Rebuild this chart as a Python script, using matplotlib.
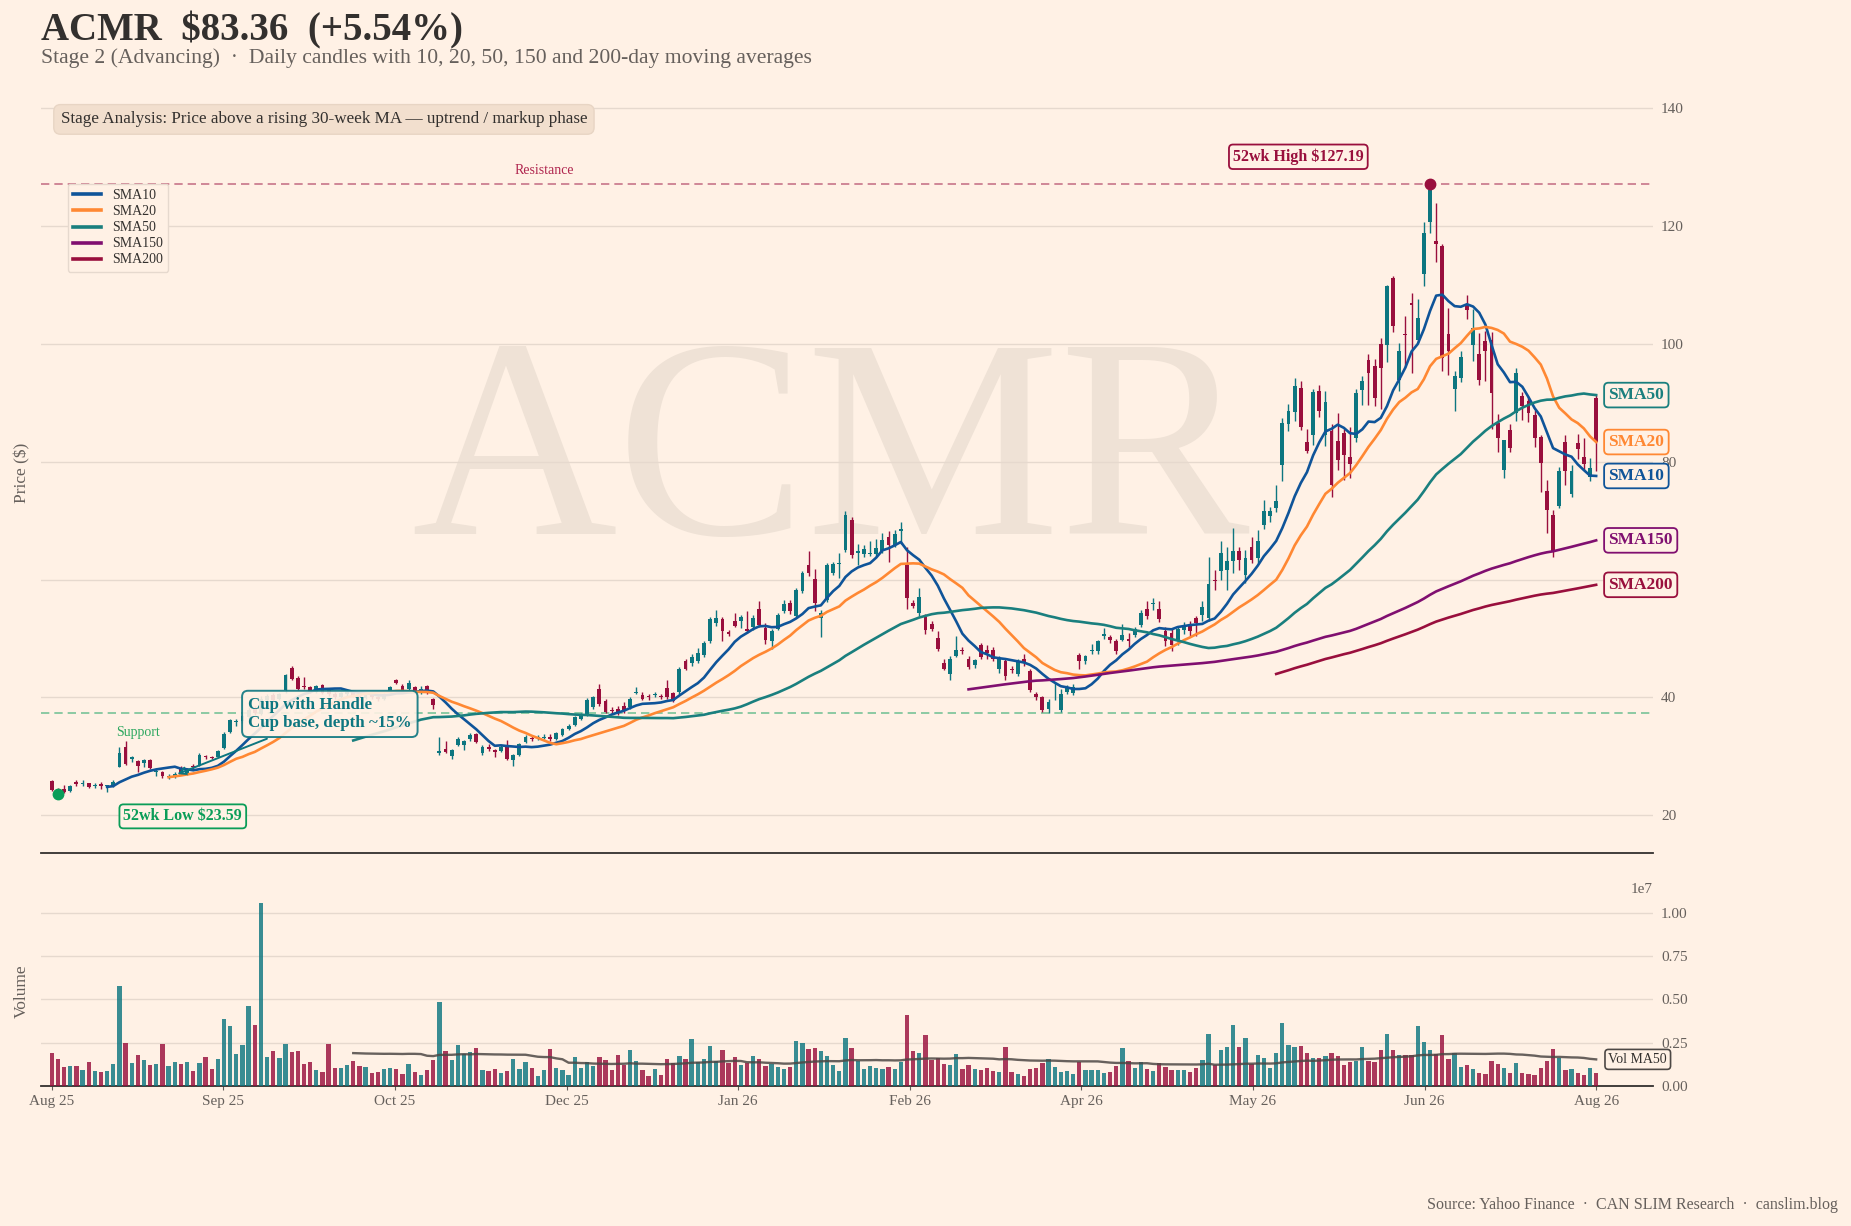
import matplotlib
matplotlib.use("Agg")
import matplotlib.pyplot as plt
import numpy as np
import pandas as pd

# ACMR daily candles (price in $, volume in millions)
ticker = "ACMR"

open_ = [25.8, 24.5, 24.4, 24.1, 25.6, 25.3, 25.4, 24.9, 25.3, 24.9,
         24.9, 28.2, 31.6, 29.5, 29.2, 28.9, 29.3, 27.3, 27.4, 26.4,
         26.6, 28.0, 27.0, 28.3, 28.5, 30.1, 29.9, 29.9, 31.4, 34.2,
         35.8, 36.0, 36.6, 38.2, 37.2, 39.6, 40.4, 39.7, 41.2, 45.0,
         43.3, 41.9, 41.8, 41.0, 42.1, 41.2, 40.6, 40.1, 40.6, 40.9,
         40.4, 39.9, 40.5, 40.1, 39.8, 41.0, 42.9, 41.9, 41.5, 41.8,
         41.2, 41.9, 39.7, 30.6, 31.2, 30.0, 32.0, 31.9, 32.9, 33.8,
         30.6, 31.6, 31.0, 30.9, 31.9, 29.3, 30.2, 32.5, 33.1, 33.1,
         33.1, 33.3, 32.9, 33.6, 34.6, 35.3, 36.3, 37.0, 38.3, 41.4,
         39.4, 37.9, 38.0, 38.5, 38.3, 40.7, 40.4, 40.2, 40.4, 40.3,
         41.6, 40.7, 40.85, 46.1, 45.8, 46.1, 47.2, 49.5, 52.6, 53.3,
         51.1, 52.9, 53.0, 51.7, 52.0, 55.0, 51.8, 49.5, 51.7, 54.6,
         56.1, 53.9, 58.1, 62.5, 60.1, 53.4, 56.5, 61.1, 62.6, 65.0,
         70.1, 64.6, 64.3, 64.4, 64.3, 64.9, 67.3, 65.8, 68.3, 62.5,
         56.0, 54.3, 53.7, 52.4, 50.1, 45.8, 43.9, 47.1, 48.0, 46.6,
         45.5, 48.9, 48.0, 48.0, 44.9, 46.1, 44.9, 44.0, 46.6, 44.4,
         40.5, 40.1, 38.0, 40.0, 37.8, 41.0, 40.7, 47.2, 46.1, 47.9,
         47.8, 50.4, 50.2, 49.6, 49.7, 49.9, 50.6, 52.3, 55.0, 55.9,
         55.0, 51.2, 50.9, 49.7, 51.4, 52.3, 53.4, 54.0, 53.4, 60.0,
         61.4, 61.6, 63.1, 64.8, 60.8, 65.6, 63.6, 69.3, 70.8, 72.1,
         79.5, 86.4, 88.4, 92.6, 83.3, 84.6, 92.0, 84.6, 85.2, 83.6,
         84.9, 80.9, 84.0, 92.2, 97.3, 96.2, 100.0, 99.9, 111.3, 93.9,
         101.7, 107.0, 100.7, 111.9, 120.7, 117.5, 116.6, 101.7, 92.4, 94.3,
         106.8, 99.9, 98.3, 100.6, 100.7, 86.6, 78.6, 85.4, 88.3, 91.1,
         90.3, 88.0, 84.3, 75.0, 71.0, 72.5, 83.3, 74.5, 83.2, 80.9,
         77.5, 90.9]

high = [26.0, 24.7, 25.1, 25.1, 25.9, 26.0, 25.5, 25.4, 25.7, 25.2,
        26.0, 31.6, 32.6, 30.0, 29.4, 29.6, 29.5, 27.9, 27.5, 27.0,
        27.3, 28.3, 27.9, 28.7, 30.5, 30.3, 30.1, 31.0, 34.2, 36.4,
        36.4, 37.2, 38.3, 38.6, 40.3, 40.6, 40.7, 40.8, 44.0, 45.3,
        43.6, 43.5, 42.0, 42.1, 42.3, 41.5, 40.9, 40.9, 41.2, 41.1,
        40.6, 40.7, 40.8, 40.3, 40.8, 41.9, 43.2, 42.2, 43.0, 42.0,
        41.9, 42.1, 39.9, 33.3, 32.6, 31.3, 33.3, 32.8, 34.0, 34.0,
        31.9, 32.1, 31.3, 31.9, 32.7, 30.4, 32.3, 33.6, 33.5, 33.7,
        33.8, 33.8, 34.2, 34.8, 35.4, 36.8, 37.4, 39.9, 40.3, 42.3,
        39.7, 38.4, 38.6, 39.3, 40.0, 41.8, 40.9, 40.6, 40.9, 40.6,
        43.0, 41.0, 45.2, 46.6, 47.3, 48.4, 49.5, 53.6, 54.8, 53.6,
        51.5, 54.4, 54.0, 54.6, 54.0, 56.4, 52.6, 51.6, 54.3, 56.5,
        56.5, 58.5, 61.4, 64.9, 61.8, 54.8, 62.8, 63.0, 64.6, 71.7,
        70.6, 66.0, 65.9, 66.5, 66.9, 68.0, 68.3, 68.4, 69.8, 65.6,
        56.6, 58.5, 54.2, 53.0, 51.2, 46.5, 47.0, 50.4, 48.5, 47.0,
        46.6, 49.2, 48.9, 48.6, 47.1, 46.6, 45.3, 46.6, 47.4, 44.9,
        41.0, 40.3, 39.8, 42.4, 41.4, 42.1, 42.3, 47.6, 47.2, 49.1,
        49.8, 51.8, 50.6, 50.0, 52.4, 51.0, 51.9, 54.9, 56.3, 56.9,
        56.3, 51.9, 51.8, 52.2, 52.8, 53.0, 53.8, 56.4, 63.9, 61.6,
        66.6, 65.6, 68.7, 65.6, 65.0, 67.3, 68.5, 73.5, 72.4, 76.0,
        87.5, 89.9, 94.2, 93.7, 85.5, 92.4, 93.0, 92.0, 86.5, 88.3,
        85.6, 86.0, 92.4, 94.5, 98.3, 97.4, 101.0, 110.0, 111.6, 100.1,
        104.8, 108.7, 107.6, 120.7, 127.19, 123.9, 117.0, 106.1, 95.4, 98.9,
        108.3, 105.9, 101.8, 102.3, 102.0, 88.2, 83.7, 86.4, 96.0, 91.9,
        91.2, 88.8, 84.6, 76.9, 71.9, 79.1, 84.6, 79.4, 84.8, 84.0,
        80.6, 91.3]

low = [24.1, 23.59, 23.8, 23.9, 24.9, 25.0, 24.6, 24.7, 24.5, 24.0,
       24.8, 28.1, 28.5, 29.0, 27.4, 28.2, 27.8, 26.6, 26.3, 26.2,
       26.3, 27.0, 26.8, 27.9, 28.4, 29.5, 29.5, 29.8, 31.3, 34.0,
       35.1, 35.6, 36.3, 37.0, 37.0, 39.2, 39.3, 39.5, 40.8, 42.9,
       41.2, 41.5, 40.8, 40.8, 40.5, 40.3, 39.8, 39.9, 40.3, 40.0,
       39.6, 39.7, 39.8, 39.4, 39.6, 40.7, 42.2, 40.8, 41.3, 40.7,
       40.5, 40.5, 38.0, 30.3, 30.5, 29.5, 31.8, 31.0, 32.6, 32.2,
       30.3, 30.9, 29.9, 30.7, 29.4, 28.4, 30.0, 32.3, 32.6, 32.8,
       32.9, 32.6, 32.7, 33.4, 34.4, 35.1, 36.1, 36.8, 38.0, 38.6,
       37.3, 37.2, 37.0, 37.4, 38.1, 40.5, 39.6, 39.6, 40.1, 39.8,
       39.8, 39.2, 40.6, 44.6, 45.3, 45.8, 46.9, 49.3, 52.2, 49.5,
       50.5, 51.9, 51.8, 51.0, 51.4, 52.0, 49.0, 48.3, 51.4, 54.3,
       54.2, 53.6, 57.8, 60.6, 54.6, 50.3, 56.2, 60.7, 60.3, 64.7,
       63.6, 62.5, 63.9, 64.0, 63.9, 64.6, 63.0, 65.5, 66.0, 55.0,
       55.2, 53.9, 50.7, 51.2, 47.9, 44.6, 42.9, 46.8, 47.3, 44.9,
       45.0, 46.5, 46.6, 46.2, 44.2, 42.9, 44.2, 43.6, 45.3, 40.9,
       39.6, 37.5, 37.4, 39.6, 37.6, 40.6, 40.4, 44.9, 45.7, 47.3,
       47.4, 50.0, 49.2, 47.3, 49.6, 48.5, 50.2, 52.0, 53.3, 54.8,
       52.8, 48.8, 47.8, 48.9, 50.7, 50.4, 50.4, 53.0, 53.0, 58.2,
       60.0, 58.3, 61.2, 61.6, 59.5, 62.8, 62.8, 68.6, 69.7, 71.5,
       76.8, 85.3, 87.0, 85.4, 81.5, 82.9, 87.6, 82.7, 74.0, 78.6,
       77.0, 77.3, 83.3, 89.7, 89.6, 89.5, 89.0, 96.9, 102.1, 92.0,
       96.1, 95.1, 100.1, 109.9, 118.9, 114.0, 95.4, 94.7, 88.6, 93.5,
       104.2, 97.1, 93.0, 93.7, 85.6, 81.6, 77.3, 81.6, 86.9, 87.1,
       86.7, 82.5, 74.9, 68.0, 63.8, 72.2, 76.1, 74.1, 80.5, 78.6,
       76.8, 78.5]

close = [24.25, 24.0, 24.0, 25.0, 25.3, 25.5, 24.8, 25.1, 25.0, 25.1,
         25.6, 30.5, 28.7, 29.8, 28.3, 29.3, 28.0, 27.5, 26.6, 26.6,
         27.0, 27.1, 27.7, 28.1, 30.2, 29.9, 29.7, 30.9, 33.8, 36.1,
         36.0, 36.8, 37.9, 37.4, 39.8, 40.3, 39.6, 40.6, 43.8, 43.2,
         41.4, 41.7, 41.0, 41.9, 40.7, 40.6, 40.1, 40.7, 41.0, 40.3,
         39.9, 40.5, 40.0, 39.7, 40.6, 41.7, 42.4, 41.0, 42.4, 41.0,
         41.5, 41.2, 38.7, 30.9, 30.8, 31.0, 32.9, 32.6, 33.7, 32.5,
         31.6, 31.2, 30.7, 31.6, 29.6, 30.2, 32.1, 33.2, 32.9, 33.3,
         33.3, 32.9, 33.9, 34.6, 35.1, 36.6, 37.0, 39.5, 40.0, 38.9,
         37.6, 37.7, 37.3, 37.7, 39.7, 40.9, 39.8, 40.0, 40.6, 40.1,
         40.1, 39.4, 44.9, 44.9, 46.8, 47.6, 49.2, 53.3, 53.5, 51.2,
         50.8, 52.2, 53.7, 51.2, 53.4, 52.3, 49.7, 51.2, 54.0, 55.8,
         54.7, 58.2, 61.1, 61.2, 56.0, 54.4, 62.5, 62.6, 62.9, 70.9,
         64.1, 64.8, 65.2, 64.6, 65.4, 66.7, 65.9, 67.7, 68.6, 56.9,
         55.6, 57.1, 51.4, 51.6, 48.3, 44.9, 46.6, 48.0, 47.8, 45.2,
         46.3, 46.9, 47.6, 46.6, 46.6, 43.6, 44.6, 46.1, 45.8, 41.2,
         40.0, 37.8, 39.3, 40.1, 40.5, 41.7, 41.8, 46.1, 47.0, 48.1,
         49.5, 50.8, 49.7, 47.8, 50.6, 49.6, 51.6, 54.4, 53.8, 56.1,
         53.3, 49.5, 48.9, 51.7, 52.3, 51.2, 52.6, 55.4, 59.3, 59.8,
         64.6, 63.1, 64.8, 63.3, 63.6, 63.3, 66.5, 71.6, 71.6, 73.3,
         86.6, 88.7, 92.9, 86.0, 81.9, 91.8, 88.7, 90.1, 76.1, 80.3,
         81.2, 79.6, 91.7, 93.8, 95.1, 90.9, 95.9, 109.8, 103.0, 98.9,
         101.5, 106.7, 104.4, 118.9, 126.1, 117.0, 97.6, 98.8, 94.5, 97.8,
         105.8, 102.8, 93.9, 98.8, 91.7, 84.0, 83.7, 82.3, 95.1, 89.4,
         88.3, 84.0, 79.8, 71.8, 64.9, 78.5, 78.4, 78.5, 82.2, 79.6,
         78.985, 83.36]

volume_m = [1.87, 1.52, 1.06, 1.12, 1.12, 0.89, 1.35, 0.83, 0.77, 0.83,
            1.23, 5.80, 2.50, 1.29, 1.75, 1.46, 1.18, 1.23, 2.39, 1.12,
            1.35, 1.23, 1.35, 0.83, 1.29, 1.64, 0.94, 1.52, 3.89, 3.43,
            1.81, 2.33, 4.59, 3.49, 10.6, 1.64, 1.98, 1.58, 2.39, 1.93,
            1.98, 1.23, 1.35, 0.89, 0.77, 2.39, 1.00, 1.00, 1.18, 1.41,
            1.12, 1.06, 0.71, 0.77, 0.94, 1.00, 0.94, 0.66, 1.23, 0.77,
            0.60, 0.89, 1.46, 4.87, 1.98, 1.46, 2.33, 1.81, 1.93, 2.16,
            0.89, 0.83, 0.94, 0.71, 0.83, 1.52, 0.94, 1.35, 1.00, 0.54,
            0.89, 2.10, 1.00, 0.89, 0.60, 1.64, 1.00, 1.35, 1.12, 1.64,
            1.46, 0.89, 1.75, 1.18, 2.04, 1.41, 0.89, 0.54, 0.94, 0.60,
            1.52, 1.29, 1.70, 1.52, 2.68, 1.35, 1.52, 2.27, 1.41, 2.04,
            1.29, 1.64, 1.18, 1.29, 1.70, 1.52, 1.12, 1.23, 1.06, 0.94,
            1.06, 2.56, 2.45, 2.10, 2.16, 1.98, 1.70, 1.18, 0.83, 2.79,
            2.16, 1.41, 0.94, 1.12, 1.00, 0.94, 1.06, 0.94, 1.35, 4.07,
            1.98, 1.87, 2.91, 1.48, 1.58, 1.27, 1.19, 1.83, 0.96, 1.19,
            0.96, 0.92, 1.00, 0.87, 0.81, 2.25, 0.81, 0.67, 0.56, 0.96,
            1.02, 1.31, 1.54, 1.08, 0.81, 0.87, 0.67, 1.37, 0.92, 0.92,
            0.92, 0.73, 0.81, 1.15, 2.17, 1.42, 1.04, 1.35, 0.96, 0.85,
            1.29, 1.06, 0.92, 0.92, 0.92, 0.81, 1.04, 1.48, 2.98, 1.19,
            2.06, 2.25, 3.50, 2.25, 2.75, 1.25, 1.77, 1.60, 1.02, 1.88,
            3.62, 2.35, 2.25, 2.31, 1.88, 1.58, 1.62, 1.71, 1.90, 1.71,
            1.17, 1.37, 1.42, 2.25, 1.42, 1.37, 2.06, 3.02, 2.06, 1.75,
            1.75, 1.75, 3.44, 2.52, 2.06, 1.86, 2.96, 1.54, 1.88, 1.06,
            1.17, 0.96, 0.73, 0.67, 1.42, 1.23, 1.00, 0.73, 1.31, 0.73,
            0.67, 0.62, 1.04, 1.42, 2.12, 1.58, 0.92, 0.96, 0.73, 0.62,
            1.04, 0.73]

tick_labels = ["Aug 25", "Sep 25", "Oct 25", "Dec 25", "Jan 26",
               "Feb 26", "Apr 26", "May 26", "Jun 26", "Aug 26"]
sma_periods = [10, 20, 50, 150, 200]
support_level = 37.3
stage = "Stage 2 (Advancing)"
stage_note = "Stage Analysis: Price above a rising 30-week MA \u2014 uptrend / markup phase"

# colours (FT-like palette)
BG = "#FFF1E5"
TEXT = "#33302E"
GREY = "#66605C"
GRID = "#E6D9CE"
UP = "#0D7680"
DOWN = "#990F3D"
GREEN = "#0A9D58"
sma_colors = {10: "#0F5499", 20: "#FF8833", 50: "#1A7F7E", 150: "#800F70", 200: "#990F3D"}

plt.rcParams["font.family"] = ["Liberation Serif", "DejaVu Serif"]

o = np.array(open_)
h = np.array(high)
l = np.array(low)
c = np.array(close)
vol = np.array(volume_m) * 1e6
n = len(c)
x = np.arange(n)
up = c >= o
cols = np.where(up, UP, DOWN)

sma = {p: pd.Series(c).rolling(p).mean() for p in sma_periods}
vol_ma = pd.Series(vol).rolling(50).mean()

hi_i = int(np.argmax(h))
lo_i = int(np.argmin(l))
chg = (c[-1] / c[-2] - 1) * 100

fig = plt.figure(figsize=(18.51, 12.26), dpi=100, facecolor=BG)
ax = fig.add_axes([0.0223, 0.3041, 0.8706, 0.6199], facecolor=BG)
axv = fig.add_axes([0.0223, 0.1145, 0.8706, 0.154], facecolor=BG, sharex=ax)

# watermark
ax.text(0.49, 0.51, ticker, transform=ax.transAxes, fontsize=205, color="#EFE2D6",
        ha="center", va="center", zorder=0)

# candles
ax.vlines(x, l, h, colors=cols, lw=1.0, zorder=3)
body = np.maximum(np.abs(c - o), 0.15)
ax.bar(x, body, bottom=np.minimum(o, c), width=0.62, color=cols, zorder=4)

# moving averages
for p in sma_periods:
    ax.plot(x, sma[p], color=sma_colors[p], lw=1.9, label=f"SMA{p}", zorder=5)
    ax.text(n + 1, sma[p].iloc[-1], f"SMA{p}", color=sma_colors[p], fontsize=12.5,
            fontweight="bold", ha="left", va="center", zorder=7, clip_on=False,
            bbox=dict(boxstyle="round,pad=0.25", fc=BG, ec=sma_colors[p], lw=1.3))

# support / resistance
ax.axhline(support_level, color=GREEN, ls=(0, (5, 3)), lw=1.2, alpha=0.55, zorder=2)
ax.text(14, support_level - 3.3, "Support", color="#2EA860", fontsize=10,
        ha="center", va="center")
ax.axhline(h[hi_i], color=DOWN, ls=(0, (5, 3)), lw=1.2, alpha=0.55, zorder=2)
ax.text(80, h[hi_i] + 1.1, "Resistance", color="#B0264F", fontsize=10,
        ha="center", va="bottom")

# 52-week high / low
ax.plot(lo_i, l[lo_i], "o", color=GREEN, ms=7.5, zorder=8)
ax.text(21.3, 19.8, f"52wk Low \\${l[lo_i]:.2f}", color=GREEN, fontsize=11.5,
        fontweight="bold", ha="center", va="center", zorder=8,
        bbox=dict(boxstyle="round,pad=0.25", fc=BG, ec=GREEN, lw=1.3))
ax.plot(hi_i, h[hi_i], "o", color=DOWN, ms=7.5, zorder=8)
ax.text(202.6, 131.8, f"52wk High \\${h[hi_i]:.2f}", color=DOWN, fontsize=11.5,
        fontweight="bold", ha="center", va="center", zorder=8,
        bbox=dict(boxstyle="round,pad=0.25", fc=BG, ec=DOWN, lw=1.3))

# pattern callout
ax.annotate("Cup with Handle\nCup base, depth ~15%", xy=(20, 26.8), xytext=(31.9, 37.2),
            color=UP, fontsize=12.2, fontweight="bold", ha="left", va="center", zorder=9,
            bbox=dict(boxstyle="round,pad=0.35", fc=BG, ec=UP, lw=1.4, alpha=0.9),
            arrowprops=dict(arrowstyle="->", color=UP, lw=1.4))

ax.text(0.012, 0.976, stage_note, transform=ax.transAxes, fontsize=12.3, color=TEXT,
        ha="left", va="top", zorder=9,
        bbox=dict(boxstyle="round,pad=0.4", fc="#F2DFCE", ec="#E8D5C4", lw=1))

leg = ax.legend(loc="upper left", bbox_to_anchor=(0.012, 0.89), fontsize=10,
                frameon=True, facecolor=BG, edgecolor=GRID, framealpha=1,
                labelspacing=0.22, handlelength=2.0, handletextpad=0.8, borderpad=0.4)
for t in leg.get_texts():
    t.set_color(TEXT)
for ln in leg.get_lines():
    ln.set_linewidth(2.6)

# volume
axv.bar(x, vol, width=0.7, color=cols, alpha=0.82, zorder=3)
axv.plot(x, vol_ma, color="#4D4845", lw=1.7, alpha=0.85, zorder=4)
axv.text(n + 1, vol_ma.iloc[-1], "Vol MA50", color=TEXT, fontsize=10, ha="left",
         va="center", zorder=7, clip_on=False,
         bbox=dict(boxstyle="round,pad=0.25", fc=BG, ec="#4D4845", lw=1.2))

# axes styling
for a in (ax, axv):
    for s in ("top", "left", "right"):
        a.spines[s].set_visible(False)
    a.spines["bottom"].set_color(TEXT)
    a.spines["bottom"].set_linewidth(1.3)
    a.yaxis.tick_right()
    a.yaxis.grid(True, color=GRID, lw=1.0)
    a.set_axisbelow(True)
    a.tick_params(axis="y", length=0, pad=6, labelsize=11, labelcolor=GREY)
    a.yaxis.set_label_position("left")

ax.set_xlim(-1.7, 260.2)
ax.set_ylim(13.55, 142.6)
ax.set_yticks([20, 40, 60, 80, 100, 120, 140])
ax.tick_params(axis="x", bottom=False, labelbottom=False)
ax.set_ylabel("Price (\\$)", color=GREY, fontsize=12.5)
ax.yaxis.set_label_coords(-0.007, 0.5)

axv.set_ylim(0, 1.095e7)
axv.set_yticks([0, 2.5e6, 5e6, 7.5e6, 1e7])
axv.yaxis.get_offset_text().set_color(GREY)
axv.yaxis.get_offset_text().set_fontsize(11)
axv.set_xticks(np.linspace(0, n - 1, len(tick_labels)))
axv.set_xticklabels(tick_labels)
axv.tick_params(axis="x", length=3, color=GREY, labelsize=11, labelcolor=GREY)
axv.set_ylabel("Volume", color=GREY, fontsize=12.5)
axv.yaxis.set_label_coords(-0.007, 0.5)

# titles and footer
fig.text(0.0223, 0.991, f"{ticker}  \\${c[-1]:.2f}  (+{chg:.2f}%)", fontsize=28,
         fontweight="bold", color=TEXT, ha="left", va="top")
fig.text(0.0223, 0.961, f"{stage}  \u00b7  Daily candles with 10, 20, 50, 150 and 200-day moving averages",
         fontsize=15.6, color=GREY, ha="left", va="top")
fig.text(0.993, 0.0175, "Source: Yahoo Finance  \u00b7  CAN SLIM Research  \u00b7  canslim.blog",
         fontsize=11.5, color=GREY, ha="right", va="center")

fig.savefig("out.png", dpi=100, facecolor=BG)
